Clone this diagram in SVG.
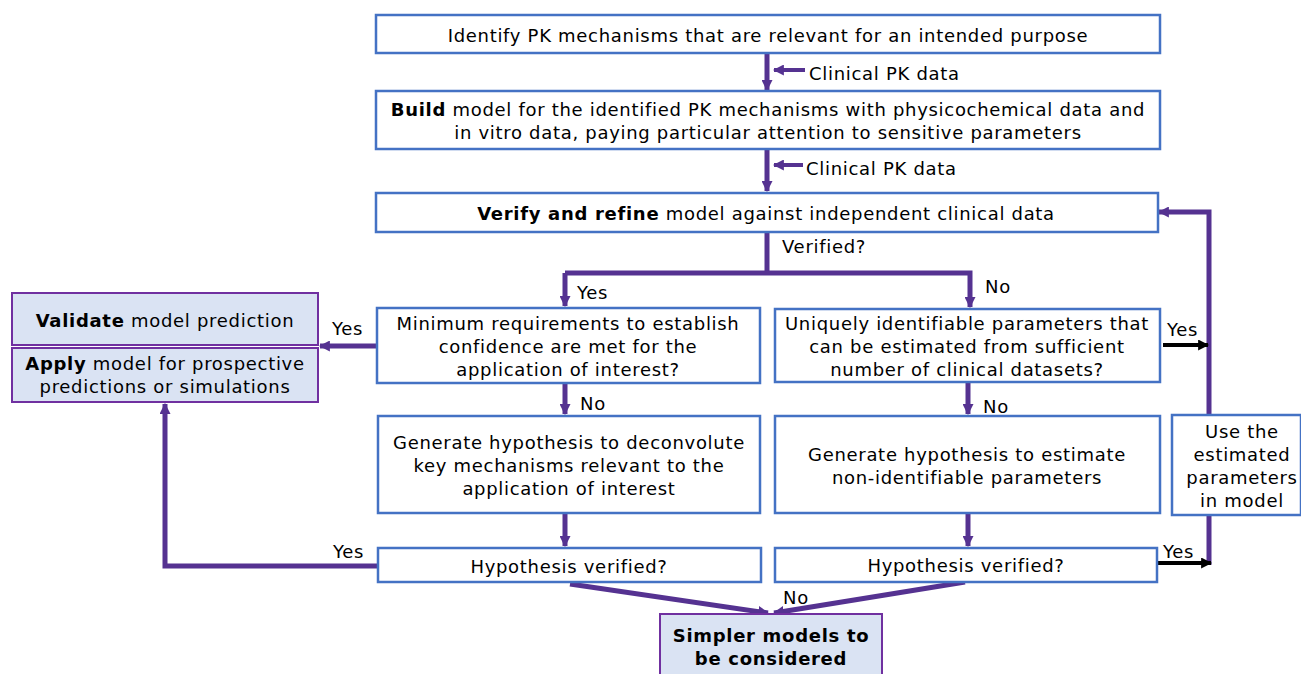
<svg xmlns="http://www.w3.org/2000/svg" width="1301" height="674" viewBox="0 0 1301 674">
  <style>
    text { font-family: "DejaVu Sans", Verdana, sans-serif; font-size: 18px; letter-spacing: 0.7px; fill: #000; }
    .c { text-anchor: middle; }
    .b { font-weight: bold; }
    .box { fill: #fff; stroke: #4472C4; stroke-width: 2.5; }
    .out { fill: #DAE3F3; stroke: #7030A0; stroke-width: 2; }
    .flow { fill: none; stroke: #553291; stroke-width: 5; }
    .side { fill: none; stroke: #553291; stroke-width: 4; }
    .blk { fill: none; stroke: #000; stroke-width: 4; }
  </style>
  <defs>
    <marker id="ah" viewBox="0 0 10 10" refX="9" refY="5" markerUnits="userSpaceOnUse" markerWidth="11" markerHeight="11" orient="auto">
      <path d="M0,0 L10,5 L0,10 z" fill="#553291"/>
    </marker>
    <marker id="ahk" viewBox="0 0 10 10" refX="9" refY="5" markerUnits="userSpaceOnUse" markerWidth="11" markerHeight="11" orient="auto">
      <path d="M0,0 L10,5 L0,10 z" fill="#000"/>
    </marker>
  </defs>

  <!-- connectors -->
  <g id="connectors">
    <line class="flow" x1="767" y1="54" x2="767" y2="90" marker-end="url(#ah)"/>
    <line class="side" x1="805" y1="70" x2="774" y2="70" marker-end="url(#ah)"/>
    <line class="flow" x1="767" y1="150" x2="767" y2="191" marker-end="url(#ah)"/>
    <line class="side" x1="803" y1="165" x2="774" y2="165" marker-end="url(#ah)"/>
    <line class="flow" x1="767" y1="233" x2="767" y2="273"/>
    <polyline class="flow" points="565,273 970,273 970,307" marker-end="url(#ah)"/>
    <line class="flow" x1="565" y1="273" x2="565" y2="306" marker-end="url(#ah)"/>
    <line class="flow" x1="377" y1="346" x2="320" y2="346" marker-end="url(#ah)"/>
    <line class="flow" x1="565" y1="384" x2="565" y2="414" marker-end="url(#ah)"/>
    <line class="flow" x1="565" y1="514" x2="565" y2="546" marker-end="url(#ah)"/>
    <polyline class="flow" points="378,566 165,566 165,404" marker-end="url(#ah)"/>
    <line class="flow" x1="968" y1="383" x2="968" y2="414" marker-end="url(#ah)"/>
    <line class="flow" x1="968" y1="514" x2="968" y2="546" marker-end="url(#ah)"/>
    <polyline class="flow" points="1209,565 1209,212 1159,212" marker-end="url(#ah)"/>
    <line class="blk" x1="1163" y1="345" x2="1208" y2="345" marker-end="url(#ahk)"/>
    <line class="blk" x1="1158" y1="563" x2="1211" y2="563" marker-end="url(#ahk)"/>
    <line class="flow" x1="570" y1="584" x2="768" y2="613" marker-end="url(#ah)"/>
    <line class="flow" x1="965" y1="582" x2="774" y2="613" marker-end="url(#ah)"/>
  </g>

  <!-- connector labels -->
  <g id="labels">
    <text x="809" y="80">Clinical PK data</text>
    <text x="806" y="175">Clinical PK data</text>
    <text x="782" y="253">Verified?</text>
    <text x="577" y="299">Yes</text>
    <text x="985" y="293">No</text>
    <text x="332" y="335">Yes</text>
    <text x="580" y="410">No</text>
    <text x="983" y="413">No</text>
    <text x="1167" y="336">Yes</text>
    <text x="333" y="558">Yes</text>
    <text x="1163" y="558">Yes</text>
    <text x="783" y="604">No</text>
  </g>

  <g id="identify">
    <rect class="box" x="376" y="15" width="784" height="38"/>
    <text class="c" x="768" y="42">Identify PK mechanisms that are relevant for an intended purpose</text>
  </g>

  <g id="build">
    <rect class="box" x="376" y="91" width="784" height="58"/>
    <text class="c" x="768" y="116"><tspan class="b">Build</tspan> model for the identified PK mechanisms with physicochemical data and</text>
    <text class="c" x="768" y="139">in vitro data, paying particular attention to sensitive parameters</text>
  </g>

  <g id="verify">
    <rect class="box" x="376" y="193" width="782" height="39"/>
    <text class="c" x="766" y="220"><tspan class="b">Verify and refine</tspan> model against independent clinical data</text>
  </g>

  <g id="minimum">
    <rect class="box" x="377" y="308" width="383" height="75"/>
    <text class="c" x="568" y="330">Minimum requirements to establish</text>
    <text class="c" x="568" y="353">confidence are met for the</text>
    <text class="c" x="568" y="376">application of interest?</text>
  </g>

  <g id="unique">
    <rect class="box" x="775" y="309" width="385" height="73"/>
    <text class="c" x="967" y="330">Uniquely identifiable parameters that</text>
    <text class="c" x="967" y="353">can be estimated from sufficient</text>
    <text class="c" x="967" y="376">number of clinical datasets?</text>
  </g>

  <g id="validate">
    <rect class="out" x="12" y="293" width="306" height="52"/>
    <text class="c" x="165" y="327"><tspan class="b">Validate</tspan> model prediction</text>
  </g>

  <g id="apply">
    <rect class="out" x="12" y="348" width="306" height="54"/>
    <text class="c" x="165" y="370"><tspan class="b">Apply</tspan> model for prospective</text>
    <text class="c" x="165" y="393">predictions or simulations</text>
  </g>

  <g id="deconvolute">
    <rect class="box" x="378" y="416" width="382" height="97"/>
    <text class="c" x="569" y="449">Generate hypothesis to deconvolute</text>
    <text class="c" x="569" y="472">key mechanisms relevant to the</text>
    <text class="c" x="569" y="495">application of interest</text>
  </g>

  <g id="estimate">
    <rect class="box" x="775" y="416" width="385" height="97"/>
    <text class="c" x="967" y="461">Generate hypothesis to estimate</text>
    <text class="c" x="967" y="484">non-identifiable parameters</text>
  </g>

  <g id="use-estimated">
    <rect class="box" x="1172" y="415" width="129" height="100"/>
    <text class="c" x="1242" y="438">Use the</text>
    <text class="c" x="1242" y="461">estimated</text>
    <text class="c" x="1242" y="484">parameters</text>
    <text class="c" x="1242" y="507">in model</text>
  </g>

  <g id="verified-left">
    <rect class="box" x="378" y="548" width="383" height="34"/>
    <text class="c" x="569" y="573">Hypothesis verified?</text>
  </g>

  <g id="verified-right">
    <rect class="box" x="775" y="548" width="382" height="34"/>
    <text class="c" x="966" y="572">Hypothesis verified?</text>
  </g>

  <g id="simpler">
    <rect class="out" x="660" y="614" width="222" height="70"/>
    <text class="c b" x="771" y="642">Simpler models to</text>
    <text class="c b" x="771" y="665">be considered</text>
  </g>
</svg>
